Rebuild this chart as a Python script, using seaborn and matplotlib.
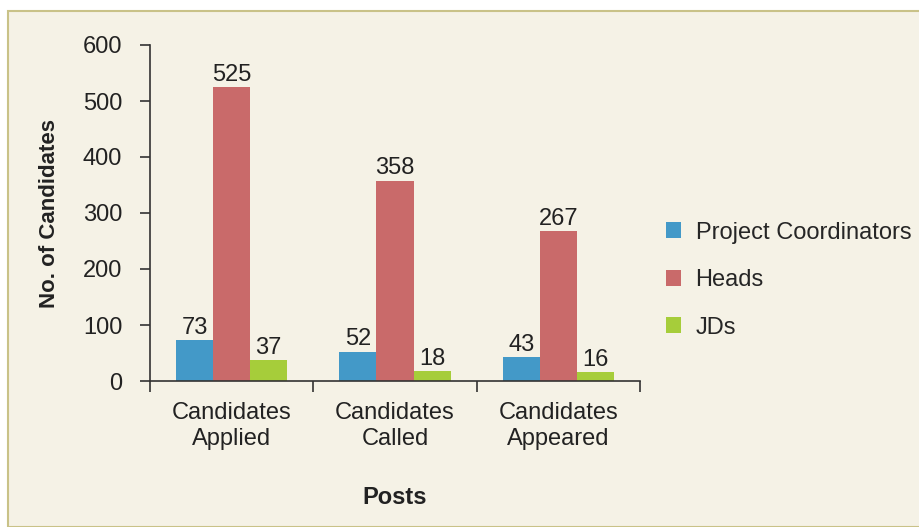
import matplotlib
matplotlib.use("Agg")
import matplotlib.pyplot as plt
import seaborn as sns
import pandas as pd
from matplotlib.patches import Rectangle, Patch

categories = ["Candidates\nApplied", "Candidates\nCalled", "Candidates\nAppeared"]
series = ["Project Coordinators", "Heads", "JDs"]
project_coordinators = [73, 52, 43]
heads = [525, 358, 267]
jds = [37, 18, 16]
colors = ["#4399c8", "#c96a6a", "#a6cd3a"]
y_ticks = [0, 100, 200, 300, 400, 500, 600]

rows = []
for s, vals in zip(series, [project_coordinators, heads, jds]):
    for c, v in zip(categories, vals):
        rows.append({"Post": c, "Series": s, "Count": v})
df = pd.DataFrame(rows)

sns.set_theme(style="white")
plt.rcParams["font.family"] = ["Liberation Sans", "DejaVu Sans"]

FS = 17
bg = "#f5f2e6"
fig = plt.figure(figsize=(9.2, 5.27), dpi=100, facecolor="white")
fig.patches.append(Rectangle((8/920, 0), 1, 1 - 11/527, transform=fig.transFigure,
                             facecolor=bg, edgecolor="#c9c288", linewidth=1.5, zorder=-5))
ax = fig.add_axes([150/920, 1 - 381/527, 490/920, 336/527])
ax.set_facecolor(bg)
ax.patch.set_alpha(0)

sns.barplot(data=df, x="Post", y="Count", hue="Series", hue_order=series,
            order=categories, palette=colors, saturation=1, width=0.68,
            ax=ax, legend=False, errorbar=None, linewidth=0, edgecolor="none")

for cont in ax.containers:
    ax.bar_label(cont, fontsize=FS, padding=1, color="#222222")

ax.set_ylim(0, 600)
ax.set_yticks(y_ticks)
ax.set_xlim(-0.5, 2.5)
ax.set_xticks([-0.5, 0.5, 1.5, 2.5])
ax.set_xticklabels([])
ax.set_xticks([0, 1, 2], minor=True)
ax.set_xticklabels(categories, minor=True, fontsize=FS, color="#222222", linespacing=1.25)
ax.tick_params(axis="x", which="major", direction="out", length=8, width=1.2, color="#333333", bottom=True)
ax.tick_params(axis="x", which="minor", length=0, pad=15)
ax.tick_params(axis="y", direction="out", length=7, width=1.2, color="#333333", left=True,
               labelsize=FS, labelcolor="#222222", pad=13)

for sp in ["top", "right"]:
    ax.spines[sp].set_visible(False)
for sp in ["left", "bottom"]:
    ax.spines[sp].set_color("#333333")
    ax.spines[sp].set_linewidth(1.2)

ax.set_xlabel("Posts", fontsize=FS, fontweight="bold", color="#222222", labelpad=26)
ax.set_ylabel("No. of Candidates", fontsize=16, fontweight="bold", color="#222222", labelpad=16)

handles = [Patch(facecolor=c, edgecolor="none") for c in colors]
fig.legend(handles, series, loc="center left", bbox_to_anchor=(666/920, 1 - 280/527),
           frameon=False, fontsize=FS, handlelength=0.65, handleheight=0.65,
           handletextpad=0.6, labelspacing=1.08, borderpad=0, borderaxespad=0)

fig.savefig("out.png", dpi=100, facecolor="white")
